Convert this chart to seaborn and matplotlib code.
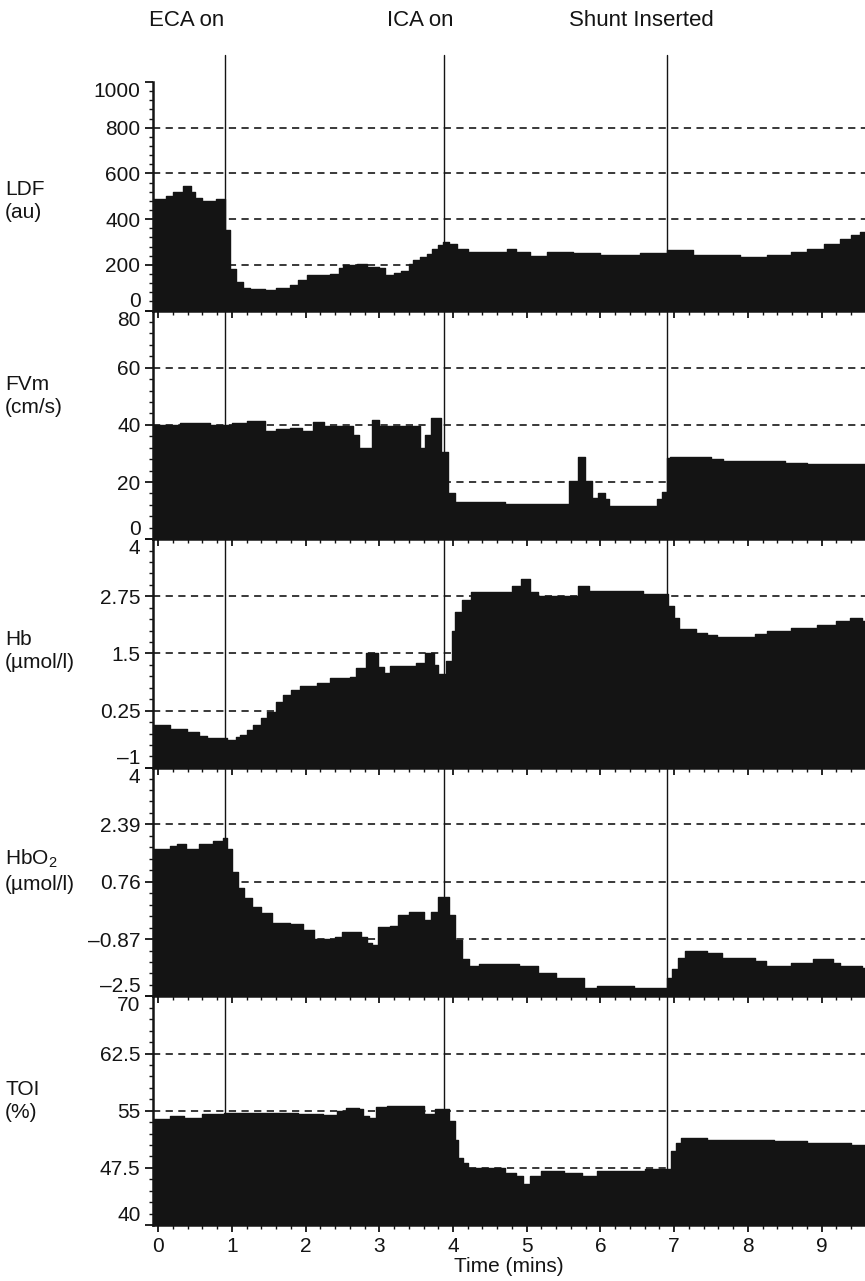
import matplotlib
matplotlib.use("Agg")
import matplotlib.pyplot as plt
from matplotlib.ticker import AutoMinorLocator, MultipleLocator
from matplotlib.transforms import blended_transform_factory
import seaborn as sns

# ---------------- data ----------------
ldf_t = [-0.07, 0.1, 0.2, 0.34, 0.45, 0.5, 0.6, 0.78, 0.91, 0.98, 1.05, 1.15, 1.25, 1.45, 1.6,
         1.79, 1.9, 2.02, 2.33, 2.45, 2.51, 2.7, 2.83, 3.0, 3.08, 3.2, 3.3, 3.4, 3.46, 3.55,
         3.65, 3.72, 3.79, 3.87, 3.95, 4.05, 4.2, 4.5, 4.73, 4.85, 5.05, 5.27, 5.63, 6.0, 6.54,
         6.9, 7.18, 7.26, 7.9, 8.26, 8.58, 8.8, 9.03, 9.25, 9.4, 9.52, 9.6]
ldf_v = [487, 500, 520, 544, 520, 491, 478, 487, 354, 181, 124, 100, 93, 89, 100,
         111, 135, 155, 160, 185, 199, 202, 190, 185, 155, 165, 175, 205, 221, 235,
         248, 268, 287, 301, 290, 270, 257, 257, 268, 255, 240, 257, 250, 243, 250,
         265, 265, 243, 235, 243, 257, 270, 292, 314, 330, 345, 345]

fvm_t = [-0.07, 0.3, 0.7, 1.0, 1.2, 1.45, 1.6, 1.79, 1.95, 2.1, 2.25, 2.64, 2.72, 2.9, 3.0,
         3.55, 3.62, 3.7, 3.84, 3.93, 4.03, 4.7, 5.58, 5.69, 5.79, 5.88, 5.97, 6.06, 6.12,
         6.77, 6.83, 6.9, 6.95, 7.5, 7.67, 8.5, 8.8, 9.6]
fvm_v = [40, 40.5, 40, 40.5, 41.5, 38, 38.5, 39, 38, 41, 39.5, 36.5, 31.8, 41.8, 39.5,
         32, 36.5, 42.5, 30.5, 16, 13, 12.4, 20.5, 28.7, 20.5, 14.5, 16, 14, 11.7,
         14, 16.5, 28.3, 28.7, 28, 27.3, 26.8, 26.2, 26.2]

hb_t = [-0.07, 0.16, 0.39, 0.55, 0.66, 0.94, 1.05, 1.11, 1.2, 1.29, 1.4, 1.48, 1.6, 1.7, 1.8,
        1.93, 2.16, 2.33, 2.6, 2.68, 2.82, 2.98, 3.07, 3.15, 3.5, 3.62, 3.74, 3.8, 3.9, 3.98,
        4.03, 4.12, 4.25, 4.8, 4.92, 5.05, 5.15, 5.7, 5.85, 6.58, 6.92, 7.0, 7.06, 7.3, 7.45,
        7.58, 8.1, 8.26, 8.58, 8.94, 9.2, 9.39, 9.55, 9.6]
hb_v = [-0.06, -0.15, -0.22, -0.3, -0.35, -0.4, -0.33, -0.29, -0.18, -0.06, 0.1, 0.23, 0.45, 0.6, 0.7,
        0.79, 0.85, 0.96, 0.99, 1.19, 1.5, 1.2, 1.07, 1.23, 1.3, 1.5, 1.25, 1.05, 1.34, 2.0,
        2.4, 2.68, 2.84, 2.97, 3.13, 2.84, 2.75, 2.97, 2.86, 2.8, 2.53, 2.28, 2.03, 1.95, 1.9,
        1.86, 1.93, 2.0, 2.06, 2.13, 2.2, 2.28, 2.2, 2.2]

hbo2_t = [-0.07, 0.16, 0.26, 0.38, 0.55, 0.75, 0.88, 0.93, 1.0, 1.08, 1.17, 1.27, 1.4, 1.55, 1.79,
          1.97, 2.12, 2.4, 2.5, 2.75, 2.83, 2.9, 2.98, 3.15, 3.25, 3.4, 3.6, 3.7, 3.79, 3.94,
          4.03, 4.12, 4.22, 4.35, 4.9, 5.15, 5.4, 5.78, 5.95, 6.45, 6.9, 6.97, 7.05, 7.15, 7.45,
          7.65, 8.1, 8.25, 8.58, 8.89, 9.15, 9.25, 9.55, 9.6]
hbo2_v = [1.69, 1.78, 1.84, 1.7, 1.84, 1.92, 2.0, 1.7, 1.05, 0.59, 0.3, 0.04, -0.13, -0.42, -0.45,
          -0.62, -0.88, -0.8, -0.68, -0.8, -0.97, -1.03, -0.53, -0.5, -0.19, -0.1, -0.33, -0.1, 0.33, -0.19,
          -0.91, -1.43, -1.63, -1.58, -1.63, -1.84, -1.98, -2.27, -2.21, -2.27, -1.98, -1.72, -1.4, -1.2, -1.27,
          -1.4, -1.5, -1.63, -1.55, -1.43, -1.55, -1.63, -1.69, -1.69]

toi_t = [-0.07, 0.16, 0.35, 0.6, 0.9, 1.9, 2.24, 2.43, 2.55, 2.72, 2.78, 2.86, 2.96, 3.1, 3.6,
         3.75, 3.95, 4.03, 4.07, 4.14, 4.2, 4.7, 4.85, 4.95, 5.05, 5.2, 5.5, 5.75, 5.95, 6.6,
         6.96, 7.02, 7.1, 7.45, 8.35, 8.8, 9.25, 9.4, 9.6]
toi_v = [53.9, 54.3, 54.1, 54.6, 54.7, 54.6, 54.5, 55.0, 55.4, 55.2, 54.3, 54.0, 55.5, 55.6, 54.6,
         55.2, 53.7, 51.1, 48.8, 48.2, 47.5, 46.8, 46.4, 45.4, 46.4, 47.1, 46.8, 46.4, 47.1, 47.4,
         49.7, 50.7, 51.4, 51.1, 51.0, 50.7, 50.8, 50.5, 50.5]

ldf_ticks = [0, 200, 400, 600, 800, 1000]
fvm_ticks = [0, 20, 40, 60, 80]
hb_ticks = [-1, 0.25, 1.5, 2.75, 4]
hbo2_ticks = [-2.5, -0.87, 0.76, 2.39, 4]
toi_ticks = [40, 47.5, 55, 62.5, 70]

ldf_labels = ["0", "200", "400", "600", "800", "1000"]
fvm_labels = ["0", "20", "40", "60", "80"]
hb_labels = ["\u20131", "0.25", "1.5", "2.75", "4"]
hbo2_labels = ["\u20132.5", "\u20130.87", "0.76", "2.39", "4"]
toi_labels = ["40", "47.5", "55", "62.5", "70"]

panel_names = ["LDF\n(au)", "FVm\n(cm/s)", "Hb\n(\u00b5mol/l)",
               "HbO$_\\mathregular{2}$\n(\u00b5mol/l)", "TOI\n(%)"]

event_t = [0.91, 3.88, 6.91]
event_labels = ["ECA on", "ICA on", "Shunt Inserted"]
x_ticks = [0, 1, 2, 3, 4, 5, 6, 7, 8, 9]

# ---------------- style ----------------
sns.set_style("ticks")
plt.rcParams['font.family'] = ['Liberation Sans', 'DejaVu Sans']
plt.rcParams['mathtext.fontset'] = 'custom'
plt.rcParams['mathtext.rm'] = 'Liberation Sans'
plt.rcParams['mathtext.it'] = 'Liberation Sans:italic'
plt.rcParams['axes.unicode_minus'] = False

INK = '#141414'
FS = 15

W, H = 865, 1281
fig, axes = plt.subplots(5, 1, figsize=(W / 100, H / 100), dpi=100, sharex=True,
                         gridspec_kw=dict(hspace=0))
fig.subplots_adjust(left=153 / W, right=1.0, top=1 - 82 / H, bottom=1 - 1225 / H)

panels = [
    (ldf_t, ldf_v, ldf_ticks, ldf_labels),
    (fvm_t, fvm_v, fvm_ticks, fvm_labels),
    (hb_t, hb_v, hb_ticks, hb_labels),
    (hbo2_t, hbo2_v, hbo2_ticks, hbo2_labels),
    (toi_t, toi_v, toi_ticks, toi_labels),
]
name_y = [201, 396, 651, 871, 1101]

for i, (ax, (t, v, ticks, labels)) in enumerate(zip(axes, panels)):
    lo, hi = ticks[0], ticks[-1]
    span = hi - lo
    ax.set_facecolor('none')
    for y in ticks[1:-1]:
        ax.axhline(y, color='#2a2a2a', lw=1.3, ls=(0, (4, 3)), zorder=1)
    ax.fill_between(t, v, lo - 0.05 * span, step='post', color=INK, lw=0, zorder=2)
    sns.lineplot(x=t, y=v, ax=ax, drawstyle='steps-post', color=INK, lw=1.0, zorder=3,
                 estimator=None, sort=False)
    ax.set_ylim(lo, hi)
    ax.set_yticks(ticks)
    ax.set_yticklabels(labels)
    ax.yaxis.set_minor_locator(AutoMinorLocator(5))
    ax.tick_params(axis='y', which='major', length=6, width=1.3, labelsize=FS, pad=3,
                   color=INK, labelcolor=INK)
    ax.tick_params(axis='y', which='minor', length=3, width=1, color=INK)
    yt = ax.yaxis.get_major_ticks()
    yt[0].label1.set_va('bottom')
    yt[-1].label1.set_va('top')

    for e in event_t:
        if i == 0:
            ax.axvline(e, ymin=0, ymax=1.12, color=INK, lw=1.0, zorder=4, clip_on=False)
        else:
            ax.axvline(e, color=INK, lw=1.0, zorder=4)

    for s in ['top', 'right']:
        ax.spines[s].set_visible(False)
    ax.spines['left'].set_linewidth(1.8)
    ax.spines['left'].set_color(INK)
    ax.spines['bottom'].set_linewidth(1.8)
    ax.spines['bottom'].set_color(INK)
    ax.set_ylabel('')
    ax.set_xlabel('')

    ax.set_xlim(-0.07, 9.59)
    ax.set_xticks(x_ticks)
    ax.xaxis.set_minor_locator(MultipleLocator(0.2))
    ax.tick_params(axis='x', which='major', length=5, width=1.3, color=INK,
                   labelsize=FS, pad=4, labelcolor=INK, labelbottom=(i == 4))
    ax.tick_params(axis='x', which='minor', length=3, width=1, color=INK)

    fig.text(5 / W, 1 - name_y[i] / H, panel_names[i], ha='left', va='center',
             fontsize=FS, linespacing=1.3, color=INK)

axes[-1].set_xlabel('Time (mins)', fontsize=FS, labelpad=0, color=INK)

label_x = [0.39, 3.55, 6.55]
tr = blended_transform_factory(axes[0].transData, fig.transFigure)
for lx, lab in zip(label_x, event_labels):
    axes[0].text(lx, 1 - 21 / H, lab, transform=tr, ha='center', va='center',
                 fontsize=16, color=INK)

fig.savefig('out.png', dpi=100)
